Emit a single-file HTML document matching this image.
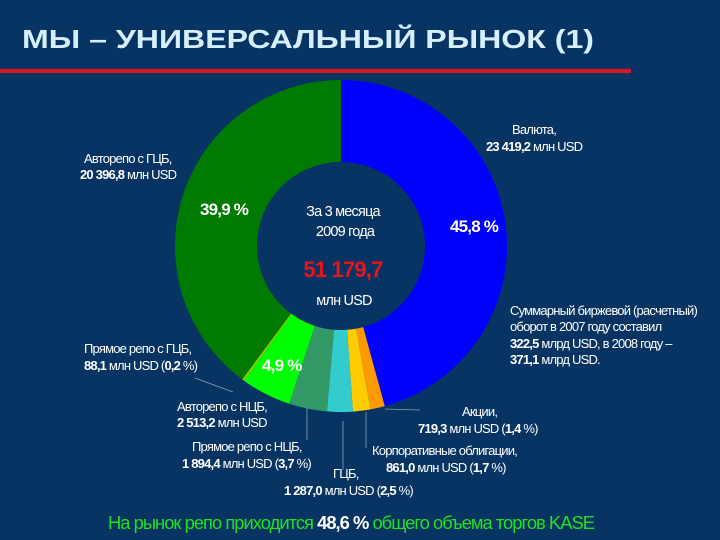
<!DOCTYPE html>
<html><head><meta charset="utf-8"><style>
body{margin:0;background:#073463;}
svg{display:block;font-family:"Liberation Sans",sans-serif;}
</style></head><body>
<svg width="720" height="540" viewBox="0 0 720 540">
<rect width="720" height="540" fill="#073463"/>
<text x="22" y="48" font-size="26" font-weight="bold" fill="#d6efff" textLength="572" lengthAdjust="spacingAndGlyphs">МЫ – УНИВЕРСАЛЬНЫЙ РЫНОК (1)</text>
<rect x="0" y="69" width="631" height="4" fill="#e0141e"/>
<g id="slices"></g>
<circle cx="341" cy="246" r="84" fill="#073463"/>
<g fill="#fff" text-anchor="middle" font-size="14.5" letter-spacing="-0.8">
<text x="343" y="216">За 3 месяца</text>
<text x="345" y="236">2009 года</text>
<text x="343" y="277" fill="#e8141e" font-size="22" font-weight="bold">51 179,7</text>
<text x="344" y="305">млн USD</text>
</g>
<g fill="#fff" font-weight="bold" font-size="17" letter-spacing="-0.8">
<text x="200" y="215">39,9 %</text>
<text x="450" y="232">45,8 %</text>
<text x="262" y="371">4,9 %</text>
</g>
<g fill="#fff" font-size="13" letter-spacing="-0.8" stroke="none">
<text x="84" y="163">Авторепо с ГЦБ,</text>
<text x="80" y="179" font-weight="bold">20 396,8 <tspan font-weight="normal">млн USD</tspan></text>
<text x="512" y="134">Валюта,</text>
<text x="486" y="151" font-weight="bold">23 419,2 <tspan font-weight="normal">млн USD</tspan></text>
<text x="510" y="315">Суммарный биржевой (расчетный)</text>
<text x="510" y="331">оборот в 2007 году составил</text>
<text x="510" y="348" font-weight="bold">322,5 <tspan font-weight="normal">млрд USD, в 2008 году –</tspan></text>
<text x="510" y="364" font-weight="bold">371,1 <tspan font-weight="normal">млрд USD.</tspan></text>
<text x="84" y="353">Прямое репо с ГЦБ,</text>
<text x="84" y="370" font-weight="bold">88,1 <tspan font-weight="normal">млн USD (</tspan>0,2 <tspan font-weight="normal">%)</tspan></text>
<text x="177" y="411">Авторепо с НЦБ,</text>
<text x="177" y="427" font-weight="bold">2 513,2 <tspan font-weight="normal">млн USD</tspan></text>
<text x="192" y="451">Прямое репо с НЦБ,</text>
<text x="182" y="468" font-weight="bold">1 894,4 <tspan font-weight="normal">млн USD (</tspan>3,7 <tspan font-weight="normal">%)</tspan></text>
<text x="333" y="478">ГЦБ,</text>
<text x="284" y="495" font-weight="bold">1 287,0 <tspan font-weight="normal">млн USD (</tspan>2,5 <tspan font-weight="normal">%)</tspan></text>
<text x="372" y="455">Корпоративные облигации,</text>
<text x="386" y="472" font-weight="bold">861,0 <tspan font-weight="normal">млн USD (</tspan>1,7 <tspan font-weight="normal">%)</tspan></text>
<text x="462" y="416">Акции,</text>
<text x="418" y="433" font-weight="bold">719,3 <tspan font-weight="normal">млн USD (</tspan>1,4 <tspan font-weight="normal">%)</tspan></text>
</g>
<g stroke="#8aa0b8" stroke-width="0.8" fill="none">
<line x1="195" y1="378" x2="233" y2="392"/>
<line x1="307" y1="407" x2="307" y2="440"/>
<line x1="343" y1="421" x2="343" y2="470"/>
<line x1="366" y1="412" x2="366" y2="448"/>
<line x1="385" y1="409" x2="420" y2="410"/>
</g>
<text x="108" y="529" font-size="18.5" fill="#22e020" letter-spacing="-1" textLength="486" lengthAdjust="spacingAndGlyphs">На рынок репо приходится <tspan fill="#fff" font-weight="bold">48,6 %</tspan> общего объема торгов KASE</text>
<script>
const categories=["Валюта","Акции","Корпоративные облигации","ГЦБ","Прямое репо с НЦБ","Авторепо с НЦБ","Прямое репо с ГЦБ","Авторепо с ГЦБ"];
const shares=[45.8,1.4,1.7,2.5,3.7,4.9,0.2,39.9];
const colors=["#0000ff","#ff9900","#ffcc00","#33cccc","#339966","#00ff00","#99cc00","#007a00"];
const cx=341,cy=246,R=166,r=84;
const g=document.getElementById('slices');
const total=shares.reduce((a,b)=>a+b,0);
let a0=0;
function pt(rad,ang){return [cx+rad*Math.sin(ang),cy-rad*Math.cos(ang)];}
shares.forEach((v,i)=>{
 const a1=a0+v/total*2*Math.PI;
 const [x1,y1]=pt(R,a0),[x2,y2]=pt(R,a1),[x3,y3]=pt(r,a1),[x4,y4]=pt(r,a0);
 const big=(a1-a0)>Math.PI?1:0;
 const p=document.createElementNS('http://www.w3.org/2000/svg','path');
 p.setAttribute('d',`M${x1},${y1}A${R},${R} 0 ${big} 1 ${x2},${y2}L${x3},${y3}A${r},${r} 0 ${big} 0 ${x4},${y4}Z`);
 p.setAttribute('fill',colors[i]);
 
 
 g.appendChild(p);
 a0=a1;
});
</script>
</svg>
</body></html>
